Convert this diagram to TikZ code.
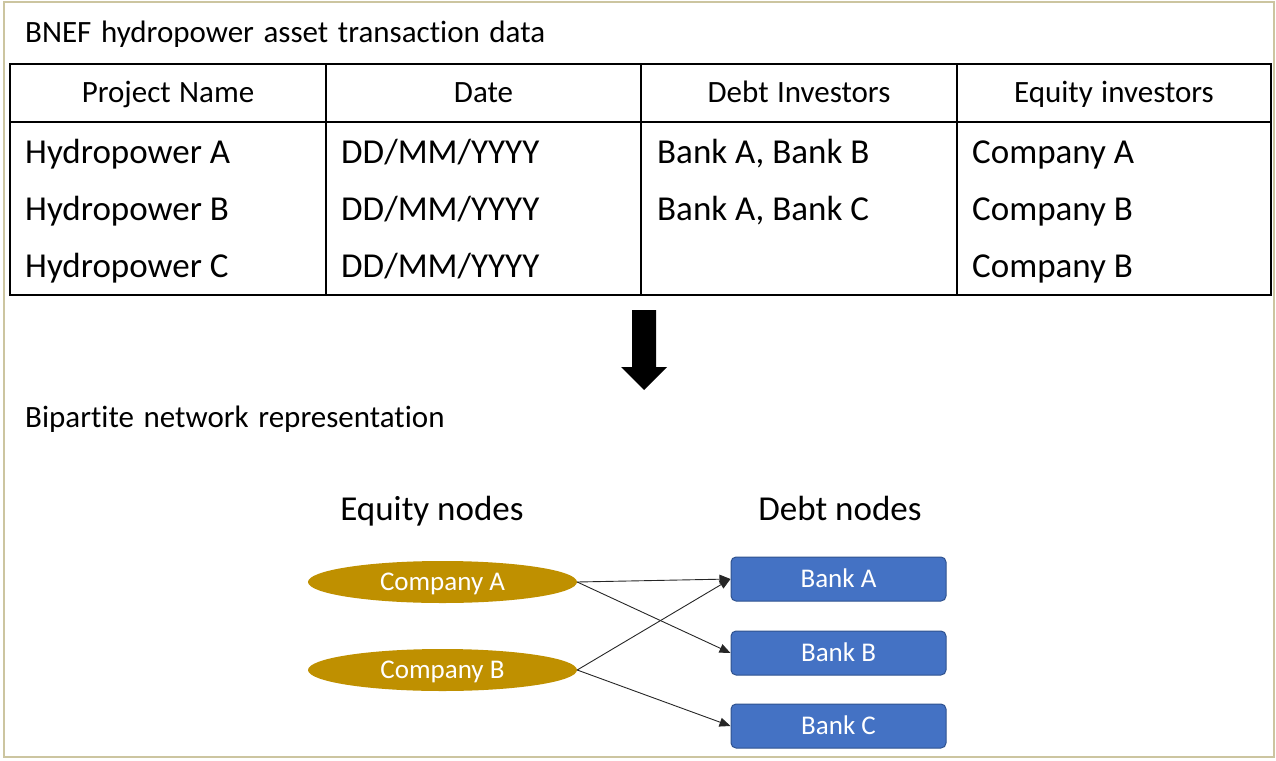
\documentclass[tikz,border=0pt]{standalone}
\usepackage{fontspec}
\setmainfont{Carlito}[Ligatures=NoCommon]
\usetikzlibrary{shapes.geometric,arrows.meta}
\definecolor{framecol}{RGB}{204,197,160}
\definecolor{gold}{RGB}{191,144,0}
\definecolor{bankfill}{RGB}{68,114,196}
\definecolor{bankedge}{RGB}{47,82,143}
\newcommand\captionfont{\fontsize{31}{36}\selectfont\spaceskip 0.31em plus 0.1em\relax}
\newcommand\headerfont{\fontsize{31}{36}\selectfont\spaceskip 0.27em plus 0.1em\relax}
\begin{document}
\begin{tikzpicture}[x=1pt,y=-1pt,
  caption/.style={anchor=base west,inner sep=0,font=\captionfont},
  headtext/.style={anchor=base,inner sep=0,font=\headerfont},
  cell/.style={anchor=base west,inner sep=0,font=\fontsize{35}{40}\selectfont},
  grouptitle/.style={anchor=base,inner sep=0,font=\fontsize{35}{40}\selectfont},
  equity/.style={ellipse,fill=gold,minimum width=269pt,minimum height=42pt,inner sep=0,
    text=white,text height=17.4pt,text depth=0pt,font=\fontsize{27}{32}\selectfont},
  bank/.style={rectangle,rounded corners=5pt,fill=bankfill,draw=bankedge,line width=1pt,
    minimum width=215pt,minimum height=44pt,inner sep=0,text=white,
    text height=17.4pt,text depth=0pt,font=\fontsize{27}{32}\selectfont},
  link/.style={draw=black!85,line width=0.9pt,-{Triangle[length=11pt,width=9pt]}},
  rule/.style={line width=1.8pt}]
\useasboundingbox (0,0) rectangle (1276,760);
% outer frame
\draw[framecol,line width=2.5pt] (4,2) rectangle (1274,757);

% --- transaction table ---
\node[caption] (title) at (25,42) {BNEF hydropower asset transaction data};
\draw[rule] (10,64) rectangle (1271,295);
\draw[rule] (10,122) -- (1271,122);
\foreach \x in {326,641,957} \draw[line width=1.5pt] (\x,64) -- (\x,295);

\node[headtext] (h1) at (168,102) {Project Name};
\node[headtext] (h2) at (483.5,102) {Date};
\node[headtext] (h3) at (799,102) {Debt Investors};
\node[headtext] (h4) at (1114,102) {Equity investors};

\node[cell] (pA) at (25,163) {Hydropower A};
\node[cell] (pB) at (25,220) {Hydropower B};
\node[cell] (pC) at (25,277) {Hydropower C};
\node[cell] (dA) at (341,163) {DD/MM/YYYY};
\node[cell] (dB) at (341,220) {DD/MM/YYYY};
\node[cell] (dC) at (341,277) {DD/MM/YYYY};
\node[cell] (bA) at (657,163) {Bank A, Bank B};
\node[cell] (bB) at (657,220) {Bank A, Bank C};
\node[cell] (eA) at (972,163) {Company A};
\node[cell] (eB) at (972,220) {Company B};
\node[cell] (eC) at (972,277) {Company B};

% --- transformation arrow ---
\fill (632,310) -- (656,310) -- (656,367) -- (667,367) -- (644,390)
  -- (621,367) -- (632,367) -- cycle;

% --- bipartite network ---
\node[caption] (net) at (25,427) {Bipartite network representation};
\node[grouptitle] (eqT) at (432,520) {Equity nodes};
\node[grouptitle] (dbT) at (840,520) {Debt nodes};

\node[equity] (cA) at (442.5,582) {Company A};
\node[equity] (cB) at (442.5,670) {Company B};

\node[bank] (kA) at (838.5,579) {Bank A};
\node[bank] (kB) at (838.5,653) {Bank B};
\node[bank] (kC) at (838.5,726) {Bank C};

\draw[link] (cA.east) -- (kA.west);
\draw[link] (cA.east) -- (kB.west);
\draw[link] (cB.east) -- (kA.west);
\draw[link] (cB.east) -- (kC.west);
\end{tikzpicture}
\end{document}
